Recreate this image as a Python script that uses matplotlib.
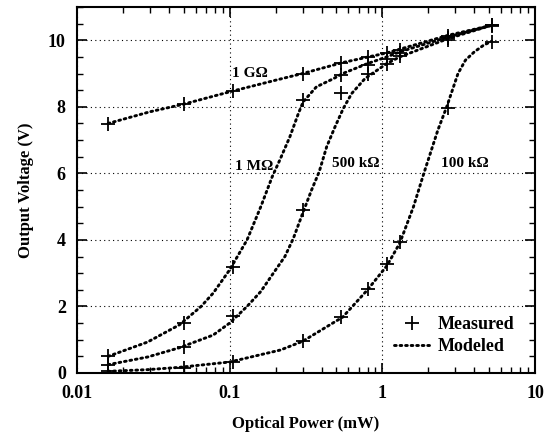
import numpy as np
import matplotlib
matplotlib.use("Agg")
import matplotlib.pyplot as plt
from matplotlib.ticker import LogLocator, MultipleLocator, FixedLocator

plt.rcParams['font.family'] = ['Liberation Serif', 'DejaVu Serif']
plt.rcParams['font.weight'] = 'bold'

# measured points (+)
x_meas = [0.016, 0.05, 0.105, 0.3, 0.54, 0.8, 1.07, 1.3, 2.7, 5.2]
meas_1g = [7.48, 8.08, 8.47, 9.0, 9.33, 9.5, 9.62, 9.72, 10.12, 10.45]
meas_1m = [0.5, 1.5, 3.2, 8.2, 8.95, 9.25, 9.45, 9.62, 10.08, 10.45]
meas_500k = [0.25, 0.78, 1.7, 4.9, 8.4, 9.0, 9.3, 9.52, 10.02, 10.42]
meas_100k = [0.05, 0.15, 0.33, 0.96, 1.68, 2.52, 3.27, 3.93, 7.96, 9.95]

# modeled curves (dotted)
x_mod_1g = [0.016, 0.03, 0.05, 0.1, 0.2, 0.3, 0.55, 1.07, 2.7, 5.2]
mod_1g = [7.5, 7.85, 8.08, 8.45, 8.8, 9.0, 9.33, 9.62, 10.15, 10.45]

x_mod_1m = [0.016, 0.029, 0.047, 0.065, 0.078, 0.1, 0.13, 0.16, 0.19, 0.213, 0.248,
            0.282, 0.303, 0.37, 0.48, 0.55, 0.8, 1.07, 1.3, 2.7, 5.2]
mod_1m = [0.5, 0.93, 1.45, 2.0, 2.4, 3.1, 4.0, 5.0, 5.9, 6.4, 7.1,
          7.8, 8.15, 8.6, 8.85, 9.0, 9.3, 9.5, 9.65, 10.1, 10.45]

x_mod_500k = [0.016, 0.029, 0.047, 0.078, 0.1, 0.13, 0.16, 0.19, 0.23, 0.261, 0.303, 0.344,
              0.386, 0.432, 0.49, 0.555, 0.63, 0.77, 1.07, 1.3, 2.7, 5.2]
mod_500k = [0.25, 0.48, 0.76, 1.14, 1.5, 2.0, 2.45, 2.95, 3.5, 4.04, 4.84, 5.5,
            6.05, 6.8, 7.4, 7.95, 8.4, 8.85, 9.3, 9.5, 10.05, 10.45]

x_mod_100k = [0.016, 0.029, 0.047, 0.1, 0.215, 0.3, 0.55, 0.8, 1.07, 1.3, 1.6, 1.87,
              2.31, 2.64, 3.13, 3.5, 4.0, 4.6, 5.2]
mod_100k = [0.05, 0.1, 0.17, 0.33, 0.69, 0.95, 1.68, 2.5, 3.22, 3.9, 5.0, 6.0,
            7.3, 8.0, 9.0, 9.4, 9.65, 9.85, 9.97]

curve_labels = ['1 G\u03a9', '1 M\u03a9', '500 k\u03a9', '100 k\u03a9']
label_x = [0.103, 0.108, 0.47, 2.42]
label_y = [9.0, 6.2, 6.3, 6.3]

fig = plt.figure(figsize=(5.44, 4.37), dpi=100)
ax = fig.add_axes([0.1415, 0.1465, 0.842, 0.8375])

dot_style = dict(color='black', lw=2.1, linestyle=(0, (0.6, 1.3)), dash_capstyle='round')
ax.plot(x_mod_1g, mod_1g, **dot_style)
ax.plot(x_mod_1m, mod_1m, **dot_style)
ax.plot(x_mod_500k, mod_500k, **dot_style)
line_mod, = ax.plot(x_mod_100k, mod_100k, **dot_style)

mk = dict(color='black', marker='+', ms=10, mew=1.3, linestyle='none')
for m in [meas_1g, meas_1m, meas_500k]:
    ax.plot(x_meas, m, **mk)
line_meas, = ax.plot(x_meas, meas_100k, **mk)

for t, lx, ly in zip(curve_labels, label_x, label_y):
    ax.text(lx, ly, t, fontsize=11, fontweight='bold', va='center', ha='left')

ax.set_xscale('log')
ax.set_xlim(0.01, 10)
ax.set_ylim(0, 11)
ax.xaxis.set_major_locator(FixedLocator([0.01, 0.1, 1, 10]))
ax.set_xticklabels(['0.01', '0.1', '1', '10'])
ax.xaxis.set_minor_locator(LogLocator(base=10, subs=np.arange(2, 10)))
ax.xaxis.set_minor_formatter(plt.NullFormatter())
ax.yaxis.set_major_locator(FixedLocator([0, 2, 4, 6, 8, 10]))
ax.yaxis.set_minor_locator(MultipleLocator(0.5))

ax.tick_params(which='both', direction='in', top=True, right=True, labelsize=13)
ax.tick_params(axis='x', which='major', pad=9)
ax.tick_params(axis='y', which='major', pad=8)
ax.tick_params(which='major', length=7, width=1.2)
ax.tick_params(which='minor', length=4, width=1.0)
for lab in ax.get_xticklabels() + ax.get_yticklabels():
    lab.set_fontweight('bold')
for s in ax.spines.values():
    s.set_linewidth(1.5)

ax.grid(True, which='major', color='black', linestyle=(0, (1, 3)), lw=0.8)

ax.set_xlabel('Optical Power (mW)', fontsize=12, fontweight='bold', labelpad=10)
ax.set_ylabel('Output Voltage (V)', fontsize=12, fontweight='bold', labelpad=10)

ax.legend([line_meas, line_mod], ['Measured', 'Modeled'], loc='lower right',
          frameon=False, prop={'size': 13, 'weight': 'bold'},
          handlelength=2.0, handletextpad=0.4, labelspacing=0.25,
          bbox_to_anchor=(0.99, 0.005))

fig.savefig('out.png', dpi=100)
